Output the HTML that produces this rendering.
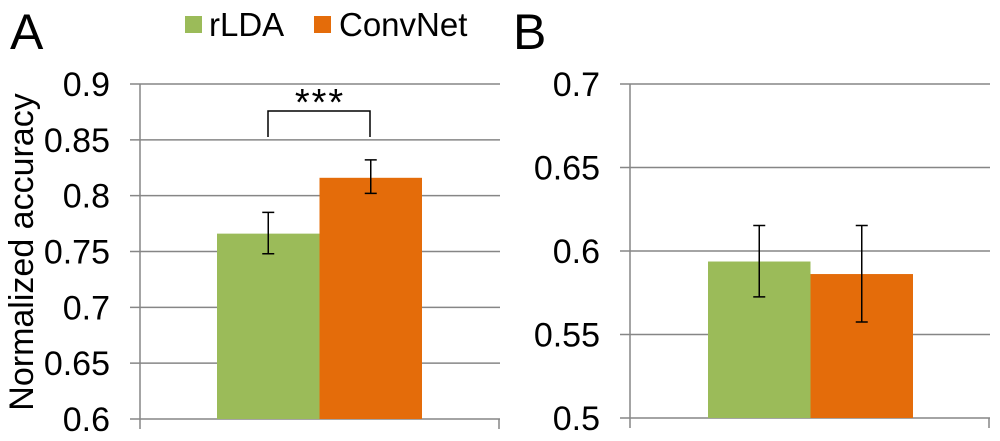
<!DOCTYPE html>
<html><head><meta charset="utf-8"><style>
body{margin:0;background:#fff;}
svg{display:block;font-family:"Liberation Sans",Arial,sans-serif;}
</style></head><body>
<svg id="chart" width="1000" height="441" viewBox="0 0 1000 441">
<text x="10" y="49" font-size="50">A</text>
<text x="513" y="49" font-size="50">B</text>
<g>
<rect x="185" y="16" width="17" height="17" fill="#9bbb59"/>
<text x="209" y="36" font-size="33">rLDA</text>
<rect x="314" y="16" width="17" height="17" fill="#e46c0a"/>
<text x="339" y="36" font-size="33">ConvNet</text>
</g>
<text transform="translate(33,252) rotate(-90)" text-anchor="middle" font-size="34">Normalized accuracy</text>
<g id="panelA"></g>
<g id="panelB"></g>
<g>
<path d="M268,137 V111 H370 V137" fill="none" stroke="#000" stroke-width="1.5"/>
<text x="320" y="115" text-anchor="middle" font-size="38" letter-spacing="2">***</text>
</g>
</svg>
<script>
const series = ["rLDA","ConvNet"];
const colors = ["#9bbb59","#e46c0a"];
const aTicks = [0.6,0.65,0.7,0.75,0.8,0.85,0.9];
const aValues = [0.766,0.816];
const aErrLow = [0.748,0.802];
const aErrHigh = [0.785,0.832];
const bTicks = [0.5,0.55,0.6,0.65,0.7];
const bValues = [0.5937,0.5862];
const bErrLow = [0.5725,0.5575];
const bErrHigh = [0.6153,0.6153];
const NS="http://www.w3.org/2000/svg";
function mk(tag,attrs,parent){const e=document.createElementNS(NS,tag);for(const k in attrs)e.setAttribute(k,attrs[k]);parent.appendChild(e);return e;}
function panel(g,cfg,ticks,vals,lo,hi){
  const min=ticks[0],max=ticks[ticks.length-1];
  const y=v=>cfg.y0-(v-min)/(max-min)*(cfg.y0-cfg.y1);
  ticks.forEach(t=>{
    const l=mk('line',{x1:cfg.ax-10,x2:cfg.right,y1:y(t),y2:y(t),stroke:'#868686','stroke-width':1.5},g);
    
    
    const tx=mk('text',{x:cfg.ax-30,y:y(t)+12,'text-anchor':'end','font-size':34},g);
    tx.textContent=String(t);
    
    
  });
  const ax=mk('line',{x1:cfg.ax,x2:cfg.ax,y1:cfg.y1,y2:cfg.y0+10,stroke:'#868686','stroke-width':1.5},g);
  
  
  const rt=mk('line',{x1:cfg.right-1,x2:cfg.right-1,y1:cfg.y0,y2:cfg.y0+10,stroke:'#868686','stroke-width':1.5},g);
  
  
  vals.forEach((v,i)=>{
    const x=cfg.bx+i*cfg.bw;
    const r=mk('rect',{x:x,y:y(v),width:cfg.bw,height:cfg.y0-y(v),fill:colors[i]},g);
    
    
    const cx=x+cfg.bw/2;
    const eb=mk('path',{d:`M${cx-6},${y(hi[i])}H${cx+6}M${cx},${y(hi[i])}V${y(lo[i])}M${cx-6},${y(lo[i])}H${cx+6}`,stroke:'#000','stroke-width':1.5,fill:'none'},g);
    
    
  });
}
panel(document.getElementById('panelA'),{ax:140,right:500,y0:419,y1:84,bx:217,bw:102.5},aTicks,aValues,aErrLow,aErrHigh);
panel(document.getElementById('panelB'),{ax:630,right:990,y0:418,y1:84,bx:708,bw:102.5},bTicks,bValues,bErrLow,bErrHigh);
</script>
</body></html>
